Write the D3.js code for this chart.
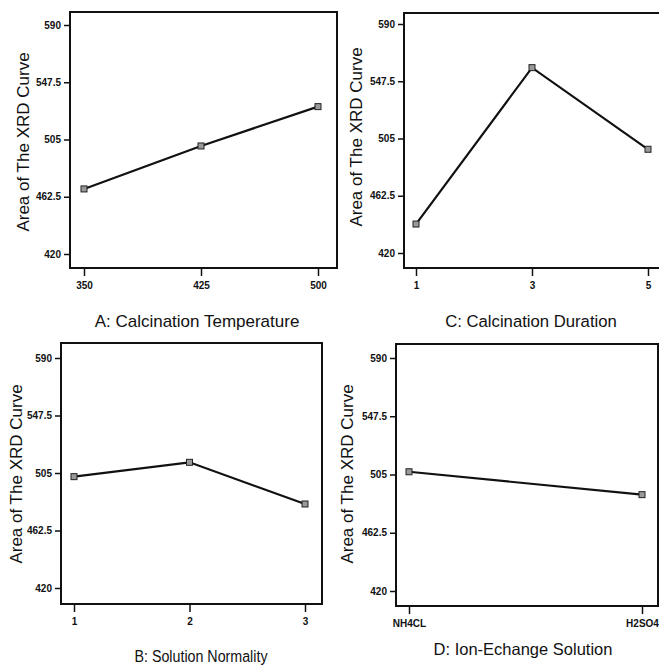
<!DOCTYPE html>
<html><head><meta charset="utf-8">
<script src="https://cdn.jsdelivr.net/npm/d3@7"></script>
<style>
body{margin:0;background:#fff;}
svg{display:block;}
.tick text{font-family:"Liberation Sans",Arial,sans-serif;font-weight:bold;font-size:10px;fill:#111;}
.tick line{stroke:#111;stroke-width:1.5;}
</style></head>
<body>
<svg id="c" width="659" height="667"></svg>
<script>
// ---- data ----
const yTicks = [420, 462.5, 505, 547.5, 590];
const yTickLabels = ["420", "462.5", "505", "547.5", "590"];
const yLabel = "Area of The XRD Curve";

const aLevels = [350, 425, 500];
const aValues = [468.3, 500.2, 529.4];
const aTitle = "A: Calcination Temperature";

const cLevels = [1, 3, 5];
const cValues = [441.5, 557.6, 497.0];
const cTitle = "C: Calcination Duration";

const bLevels = [1, 2, 3];
const bValues = [502.3, 512.9, 482.1];
const bTitle = "B: Solution Normality";

const dLevels = ["NH4CL", "H2SO4"];
const dValues = [507.0, 490.3];
const dTitle = "D: Ion-Echange Solution";

// ---- layout ----
const panels = [
  {levels:aLevels, values:aValues, title:aTitle, box:[70,12,337,268], yr:[254,25], xr:[84,318], cat:false, tx:197, ty:323, tf:17, tl:null, lx:25, ly:142},
  {levels:cLevels, values:cValues, title:cTitle, box:[404,13,668,268], yr:[253,24], xr:[416,648], cat:false, tx:531, ty:323, tf:16.7, tl:null, lx:358, ly:137},
  {levels:bLevels, values:bValues, title:bTitle, box:[61,343,322,604], yr:[588,358], xr:[74,305], cat:false, tx:201, ty:658, tf:16, tl:133, lx:18, ly:474},
  {levels:dLevels, values:dValues, title:dTitle, box:[396,344,658,606], yr:[591,358], xr:[409,642], cat:true, tx:523, ty:651, tf:16.5, tl:null, lx:349, ly:474}
];

const svg = d3.select("#c");
const font = '"Liberation Sans", Arial, sans-serif';

panels.forEach(p => {
  const g = svg.append("g");
  const [x0,y0,x1,y1] = p.box;
  const y = d3.scaleLinear().domain([420,590]).range(p.yr);
  const x = p.cat
    ? d3.scalePoint().domain(p.levels).range(p.xr)
    : d3.scaleLinear().domain(d3.extent(p.levels)).range(p.xr);

  g.append("rect").attr("x",x0).attr("y",y0).attr("width",x1-x0).attr("height",y1-y0)
    .attr("fill","none").attr("stroke","#111").attr("stroke-width",2);

  const ya = d3.axisLeft(y).tickValues(yTicks).tickSize(6).tickPadding(3)
    .tickFormat((d,i)=>yTickLabels[i]);
  const yg = g.append("g").attr("transform",`translate(${x0},0)`).call(ya);
  yg.select(".domain").remove();

  const xa = d3.axisBottom(x).tickSize(8).tickPadding(6);
  if (!p.cat) xa.tickValues(p.levels).tickFormat(d3.format("d"));
  const xg = g.append("g").attr("transform",`translate(0,${y1})`).call(xa);
  xg.select(".domain").remove();

  const line = d3.line().x((d,i)=>x(p.levels[i])).y(d=>y(d));
  g.append("path").datum(p.values).attr("d",line)
    .attr("fill","none").attr("stroke","#111").attr("stroke-width",2.2);

  g.selectAll("rect.pt").data(p.values).join("rect").attr("class","pt")
    .attr("x",(d,i)=>x(p.levels[i])-3).attr("y",d=>y(d)-3)
    .attr("width",6).attr("height",6)
    .attr("fill","#999").attr("stroke","#222").attr("stroke-width",1);

  const t = g.append("text").attr("x",p.tx).attr("y",p.ty)
    .attr("text-anchor","middle").attr("dominant-baseline","middle")
    .attr("font-family",font).attr("font-size",p.tf).attr("fill","#111")
    .text(p.title);
  if (p.tl) t.attr("textLength",p.tl).attr("lengthAdjust","spacingAndGlyphs");

  g.append("text").attr("transform",`translate(${p.lx},${p.ly}) rotate(-90)`)
    .attr("text-anchor","middle").attr("dominant-baseline","middle")
    .attr("font-family",font).attr("font-size",17).attr("fill","#111")
    .text(yLabel);
});
</script>
</body></html>
